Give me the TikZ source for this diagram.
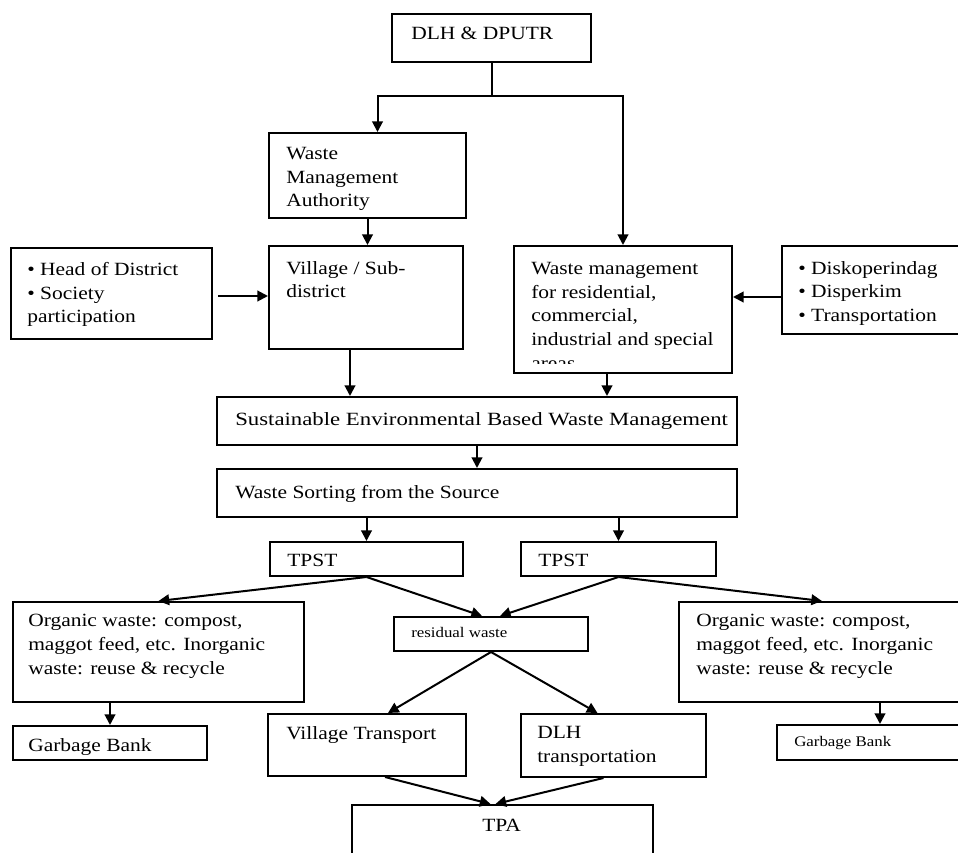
\documentclass[tikz,border=0pt]{standalone}
\usepackage{fontspec}
\setmainfont{Liberation Serif}[FakeStretch=1.15]
\newfontfamily\widefont{Liberation Serif}[FakeStretch=1.22]
\usetikzlibrary{fit,arrows.meta}
\newcommand\cliptext[6][7]{%
  \begin{scope}
    \clip (#2.north west) rectangle ([shift={(0,-#1)}]#2.south east);
    \node[txt,#5,anchor=north west] (#2t) at ([shift={(#3,#4)}]#2.north west) {#6};
  \end{scope}}
\begin{document}
\begin{tikzpicture}[x=0.75pt,y=-0.75pt,
  box/.style={draw, line width=1.5pt, inner sep=0pt},
  txt/.style={inner sep=0pt, align=left, font=\fontsize{14}{17.8}\selectfont},
  small/.style={font=\fontsize{11}{13}\selectfont},
  wide/.style={font=\fontsize{14}{17.8}\widefont},
  arr/.style={line width=1.5pt, -{Triangle[length=8pt,width=8pt]}},
  ln/.style={line width=1.5pt}]
\useasboundingbox (0,0) rectangle (958,853);
\clip (0,0) rectangle (958,853);

% boxes
\node[box, fit={(392,14) (591,62)}] (top) {};
\node[box, fit={(269,133) (466,218)}] (wma) {};
\node[box, fit={(269,246) (463,349)}] (village) {};
\node[box, fit={(11,248) (212,339)}] (head) {};
\node[box, fit={(514,246) (732,373)}] (wmres) {};
\node[box, fit={(782,246) (965,334)}] (disk) {};
\node[box, fit={(217,397) (737,445)}] (sebwm) {};
\node[box, fit={(217,469) (737,517)}] (wss) {};
\node[box, fit={(270,542) (463,576)}] (tpstL) {};
\node[box, fit={(521,542) (716,576)}] (tpstR) {};
\node[box, fit={(13,602) (304,702)}] (orgL) {};
\node[box, fit={(394,617) (588,651)}] (resid) {};
\node[box, fit={(679,602) (965,702)}] (orgR) {};
\node[box, fit={(13,726) (207,760)}] (gbL) {};
\node[box, fit={(777,725) (965,760)}] (gbR) {};
\node[box, fit={(268,714) (466,776)}] (vt) {};
\node[box, fit={(521,714) (706,777)}] (dlht) {};
\node[box, fit={(352,805) (653,900)}] (tpa) {};

% texts
\cliptext{top}{20}{14}{}{DLH \& DPUTR}
\cliptext[8]{wma}{18}{15}{}{Waste\\Management\\Authority}
\cliptext{village}{18}{16}{}{Village / Sub-\\district}
\cliptext{head}{17}{15}{}{• Head of District\\• Society\\participation}
\cliptext[11]{wmres}{18}{17}{}{Waste management\\for residential,\\commercial,\\industrial and special\\areas}
\cliptext{disk}{17}{16}{}{• Diskoperindag\\• Disperkim\\• Transportation}
\cliptext{sebwm}{19}{16}{wide}{Sustainable Environmental Based Waste Management}
\cliptext{wss}{19}{17}{}{Waste Sorting from the Source}
\cliptext[10]{tpstL}{18}{13}{}{TPST}
\cliptext[10]{tpstR}{18}{13}{}{TPST}
\cliptext{orgL}{16}{13}{}{Organic waste: compost,\\maggot feed, etc. Inorganic\\waste: reuse \& recycle}
\cliptext{resid}{18}{11}{small}{residual waste}
\cliptext{orgR}{18}{13}{}{Organic waste: compost,\\maggot feed, etc. Inorganic\\waste: reuse \& recycle}
\cliptext{gbL}{16}{13}{}{Garbage Bank}
\cliptext{gbR}{18}{12}{small}{Garbage Bank}
\cliptext{vt}{19}{13}{}{Village Transport}
\cliptext{dlht}{17}{13}{}{DLH\\transportation}
\cliptext{tpa}{131}{15}{}{TPA}

% connectors
\coordinate (j) at ([shift={(0,33)}]top.south);
\draw[ln] (top.south) -- (j);
\path ([shift={(10,0)}]wma.north) coordinate (w1);
\draw[arr] (j) -| (w1);
\draw[arr] (j) -| (wmres.north);
\draw[arr] (wma.south) -- (wma.south |- village.north);
\path ([shift={(5,2.5)}]head.east) coordinate (h1);
\draw[arr] (h1) -- (h1 -| village.west);
\path ([shift={(0,7)}]disk.west) coordinate (d1);
\draw[arr] (d1) -- (d1 -| wmres.east);
\path ([shift={(-16,0)}]village.south) coordinate (v1);
\draw[arr] (v1) -- (v1 |- sebwm.north);
\path ([shift={(-16,0)}]wmres.south) coordinate (r1);
\draw[arr] (r1) -- (r1 |- sebwm.north);
\draw[arr] (sebwm.south) -- (sebwm.south |- wss.north);
\draw[arr] (tpstL.north |- wss.south) -- (tpstL.north);
\draw[arr] (tpstR.north |- wss.south) -- (tpstR.north);
\draw[arr] (tpstL.south) -- (orgL.north);
\draw[arr] (tpstL.south) -- ([shift={(-9,0)}]resid.north);
\draw[arr] (tpstR.south) -- ([shift={(9,0)}]resid.north);
\draw[arr] (tpstR.south) -- (orgR.north);
\draw[arr] (resid.south) -- ([shift={(21,0)}]vt.north);
\draw[arr] (resid.south) -- ([shift={(-16,0)}]dlht.north);
\draw[arr] ([shift={(18,0)}]vt.south) -- ([shift={(-12,0)}]tpa.north);
\draw[arr] ([shift={(-10,0)}]dlht.south) -- ([shift={(-7,0)}]tpa.north);
\draw[arr] (gbL.north |- orgL.south) -- (gbL.north);
\path ([shift={(9,0)}]gbR.north) coordinate (g1);
\draw[arr] (g1 |- orgR.south) -- (g1);
\end{tikzpicture}
\end{document}
